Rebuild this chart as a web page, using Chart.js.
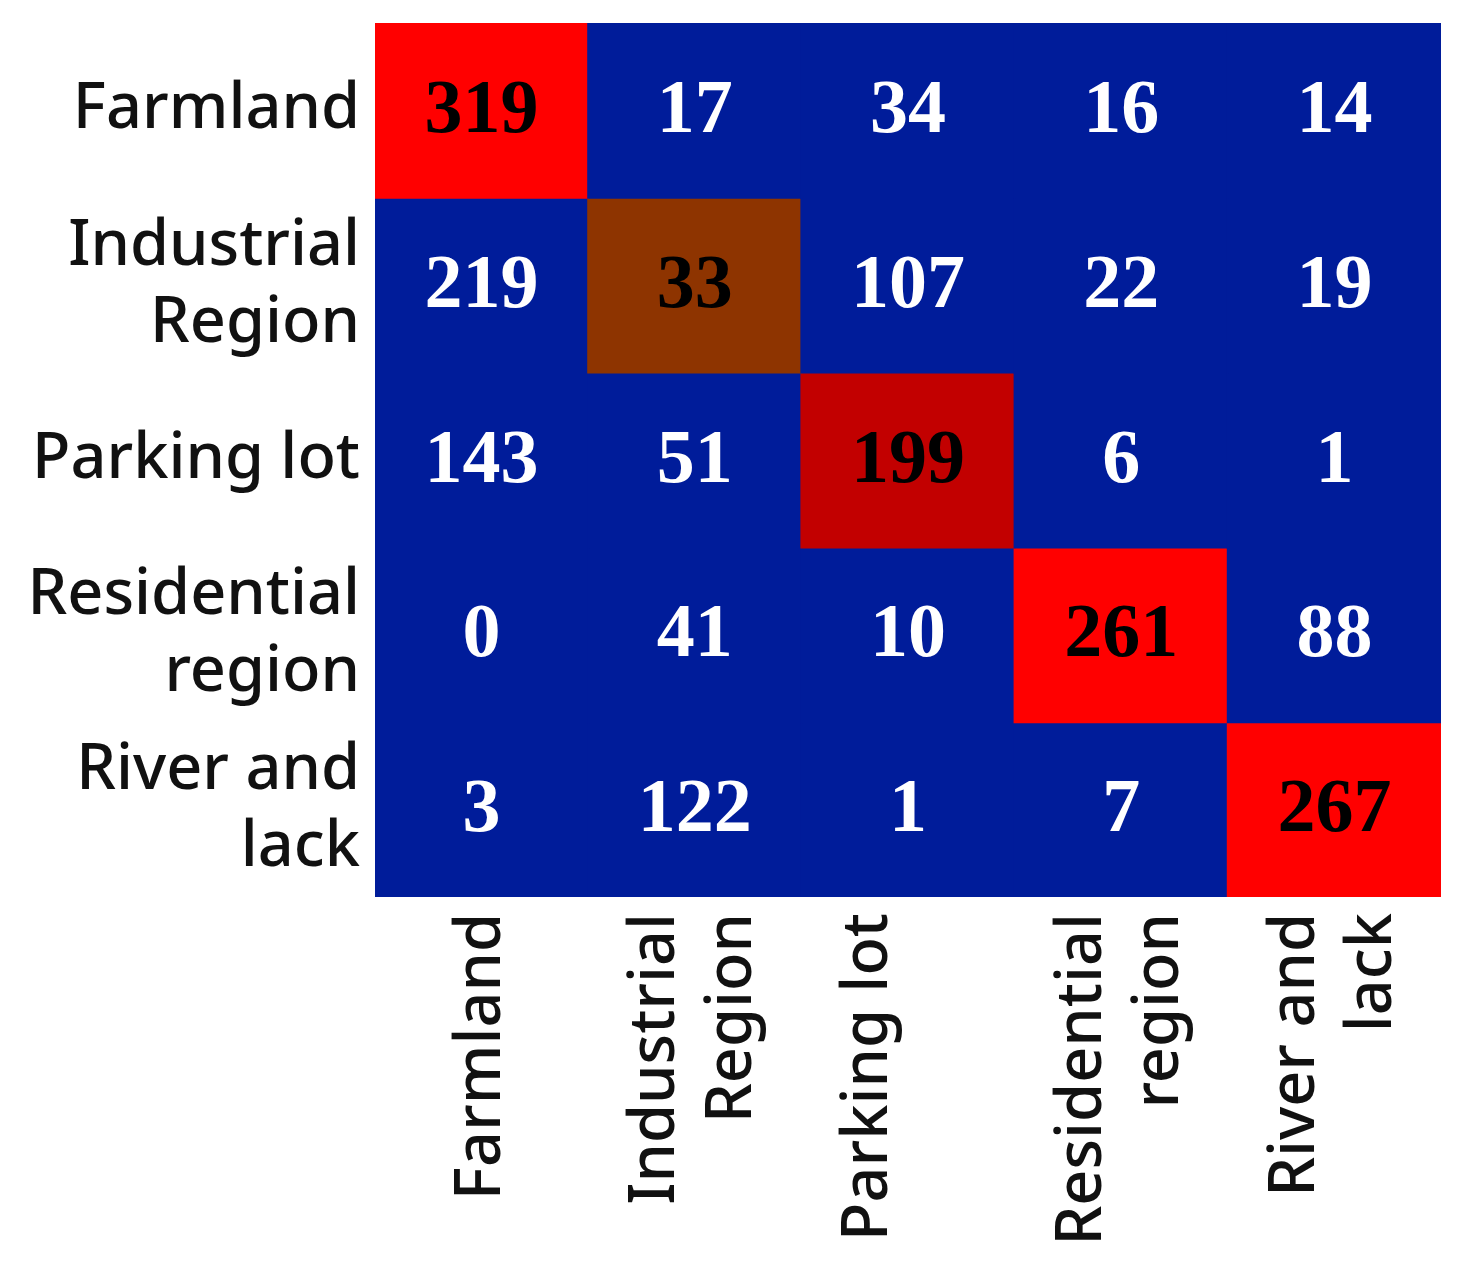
<!DOCTYPE html>
<html><head><meta charset="utf-8">
<script src="https://cdn.jsdelivr.net/npm/chart.js@4/dist/chart.umd.min.js"></script>
<style>html,body{margin:0;padding:0;background:#fff}#wrap{width:1465px;height:1269px;position:relative}</style>
</head><body><div id="wrap"><canvas id="c"></canvas></div>
<script>
// Rows: true class, columns: predicted class
const rowLabels = [['Farmland'], ['Industrial', 'Region'], ['Parking lot'], ['Residential', 'region'], ['River and', 'lack']];
const colLabels = [['Farmland'], ['Industrial', 'Region'], ['Parking lot', ''], ['Residential', 'region'], ['River and', 'lack']];
const farmland    = [319, 17, 34, 16, 14];
const industrial  = [219, 33, 107, 22, 19];
const parking     = [143, 51, 199, 6, 1];
const residential = [0, 41, 10, 261, 88];
const river       = [3, 122, 1, 7, 267];
const counts = [farmland, industrial, parking, residential, river];

const BLUE = '#001C9A', BROWN = '#8E3400', DARKRED = '#C20000', RED = '#FF0000';
function cellColor(r, c) {
  if (r !== c) return BLUE;
  const total = counts[r].reduce((a, b) => a + b, 0);
  const recall = counts[r][c] / total;
  if (recall < 0.3) return BROWN;
  if (recall < 0.6) return DARKRED;
  return RED;
}

const LABEL_FONT = '"Noto Sans", "Open Sans", sans-serif';

const valueLabels = {
  id: 'valueLabels',
  afterDatasetsDraw(chart) {
    const ctx = chart.ctx;
    ctx.save();
    ctx.font = 'bold 76px "Liberation Serif", "Times New Roman", serif';
    ctx.textAlign = 'center';
    ctx.textBaseline = 'middle';
    counts.forEach((row, r) => {
      const meta = chart.getDatasetMeta(r);
      row.forEach((v, c) => {
        const el = meta.data[c];
        ctx.fillStyle = r === c ? '#000' : '#fff';
        ctx.fillText(String(v), el.x, (el.y + el.base) / 2 + 2);
      });
    });
    ctx.restore();
  }
};

const xLabelsPlugin = {
  id: 'xLabels',
  afterDraw(chart) {
    const ctx = chart.ctx, xs = chart.scales.x;
    const LH = 77;
    ctx.save();
    ctx.font = '500 63px ' + LABEL_FONT;
    ctx.fillStyle = '#111';
    ctx.textAlign = 'right';
    ctx.textBaseline = 'middle';
    colLabels.forEach((lines, i) => {
      const px = xs.getPixelForValue(i);
      const n = lines.length;
      lines.forEach((t, j) => {
        ctx.save();
        ctx.translate(px + (j - (n - 1) / 2) * LH, xs.top + 16);
        ctx.rotate(-Math.PI / 2);
        ctx.fillText(t, 0, 0);
        ctx.restore();
      });
    });
    ctx.restore();
  }
};

new Chart(document.getElementById('c'), {
  type: 'bar',
  data: {
    labels: colLabels.map(l => l.join(' ').trim()),
    datasets: rowLabels.map((lab, r) => ({
      label: lab.join(' '),
      data: counts[r].map(() => [r, r + 1]),
      backgroundColor: counts[r].map((v, c) => cellColor(r, c)),
      borderWidth: 0,
      grouped: false,
      barPercentage: 1,
      categoryPercentage: 1,
      inflateAmount: 1
    }))
  },
  options: {
    responsive: true,
    maintainAspectRatio: false,
    animation: false,
    layout: { padding: { top: 23, right: 24, left: 0, bottom: 0 } },
    plugins: { legend: { display: false }, tooltip: { enabled: false } },
    scales: {
      x: {
        type: 'category',
        grid: { display: false, drawTicks: false },
        border: { display: false },
        ticks: { display: false },
        afterFit(scale) { scale.height = 372; scale.paddingLeft = 0; scale.paddingRight = 0; }
      },
      y: {
        type: 'linear',
        min: 0, max: 5, reverse: true,
        grid: { display: false, drawTicks: false },
        border: { display: false },
        afterBuildTicks(scale) { scale.ticks = rowLabels.map((_, i) => ({ value: i + 0.5 })); },
        afterFit(scale) { scale.width = 375; scale.paddingTop = 0; scale.paddingBottom = 0; },
        ticks: {
          autoSkip: false,
          padding: 15,
          color: '#111',
          font: { family: LABEL_FONT, size: 63, weight: 500, lineHeight: 1.22 },
          callback: (v) => rowLabels[Math.floor(v)]
        }
      }
    }
  },
  plugins: [valueLabels, xLabelsPlugin]
});
</script>
</body></html>
